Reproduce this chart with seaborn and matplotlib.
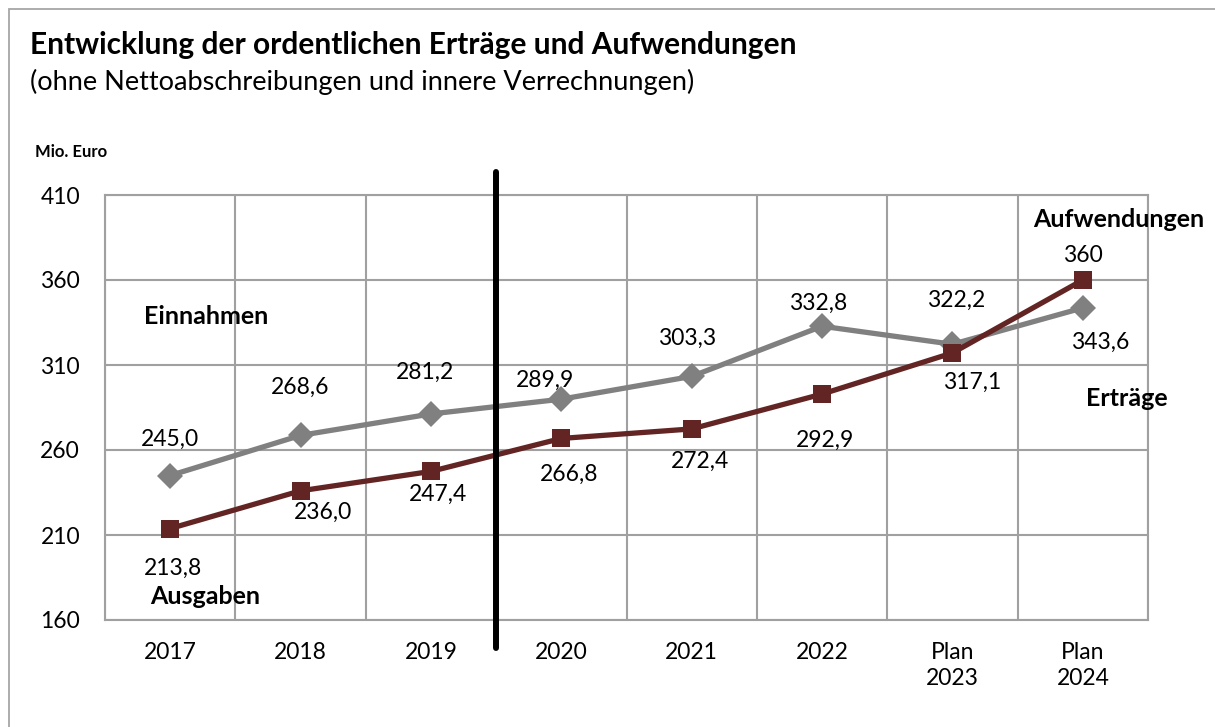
import numpy as np
import pandas as pd
import matplotlib
matplotlib.use("Agg")
import matplotlib.pyplot as plt
import seaborn as sns
from matplotlib.patches import Rectangle

# data
years = ["2017", "2018", "2019", "2020", "2021", "2022", "Plan\n2023", "Plan\n2024"]
ertraege = [245.0, 268.6, 281.2, 289.9, 303.3, 332.8, 322.2, 343.6]
aufwendungen = [213.8, 236.0, 247.4, 266.8, 272.4, 292.9, 317.1, 360.0]
ertraege_txt = ["245,0", "268,6", "281,2", "289,9", "303,3", "332,8", "322,2", "343,6"]
aufwendungen_txt = ["213,8", "236,0", "247,4", "266,8", "272,4", "292,9", "317,1", "360"]
yticks = [160, 210, 260, 310, 360, 410]

# label offsets (pixels, x right / y down)
ertraege_off = [(0, -36), (0, -48), (-6, -42), (-16, -19), (-5, -38), (-4, -23), (4, -44), (17, 34)]
aufwendungen_off = [(3, 40), (22, 22), (7, 23), (8, 36), (8, 32), (3, 46), (20, 29), (0, -25)]

GRAY = "#808080"
RED = "#632523"
GRID = "#a0a0a0"
W, H = 1215, 727

sns.set_style("white")
plt.rcParams["font.family"] = ["Lato", "DejaVu Sans"]
plt.rcParams["text.color"] = "black"

df = pd.DataFrame({
    "Jahr": years * 2,
    "Wert": ertraege + aufwendungen,
    "Reihe": ["Erträge"] * len(years) + ["Aufwendungen"] * len(years),
})

fig = plt.figure(figsize=(W / 100, H / 100), dpi=100)
ax = fig.add_axes([105 / W, 1 - 620 / H, (1148 - 105) / W, (620 - 195) / H])

sns.lineplot(data=df, x="Jahr", y="Wert", hue="Reihe", style="Reihe",
             hue_order=["Erträge", "Aufwendungen"],
             palette={"Erträge": GRAY, "Aufwendungen": RED},
             markers={"Erträge": "D", "Aufwendungen": "s"},
             dashes=False, sort=False, legend=False, ax=ax,
             linewidth=3.8, markersize=13.5, markeredgewidth=0)

ax.set_xlim(-0.5, len(years) - 0.5)
ax.set_ylim(160, 410)
ax.set_yticks(yticks)
ax.set_xticks(range(len(years)))
ax.set_xticklabels(years)
ax.set_xticks(np.arange(-0.5, len(years), 1), minor=True)
ax.set_xlabel("")
ax.set_ylabel("")
ax.grid(False)
ax.grid(axis="y", which="major", color=GRID, lw=1.5)
ax.grid(axis="x", which="minor", color=GRID, lw=1.5)
ax.set_axisbelow(True)
for s in ax.spines.values():
    s.set_color(GRID)
    s.set_linewidth(1.5)
ax.tick_params(axis="both", which="both", length=0, labelsize=16.5, colors="black")
ax.tick_params(axis="y", pad=18)
ax.tick_params(axis="x", pad=16)
for lbl in ax.get_xticklabels():
    lbl.set_linespacing(1.3)

# separator between actual years and 2020 onward
ax.axvline(2.5, ymin=-0.066, ymax=1.054, color="black", lw=4.3, clip_on=False, zorder=5)

for i, (v, t, (dx, dy)) in enumerate(zip(ertraege, ertraege_txt, ertraege_off)):
    ax.annotate(t, (i, v), xytext=(dx * 0.72, -dy * 0.72), textcoords="offset points",
                ha="center", va="center", fontsize=16.5, color="black")
for i, (v, t, (dx, dy)) in enumerate(zip(aufwendungen, aufwendungen_txt, aufwendungen_off)):
    ax.annotate(t, (i, v), xytext=(dx * 0.72, -dy * 0.72), textcoords="offset points",
                ha="center", va="center", fontsize=16.5, color="black")


def ftext(x, y, s, **kw):
    fig.text(x / W, 1 - y / H, s, color="black", **kw)


ftext(30, 54, "Entwicklung der ordentlichen Erträge und Aufwendungen",
      fontsize=21.5, fontweight="bold", va="baseline")
ftext(30, 90, "(ohne Nettoabschreibungen und innere Verrechnungen)",
      fontsize=19.5, va="baseline")
ftext(35, 157, "Mio. Euro", fontsize=12, fontweight="bold", va="baseline")

ftext(206, 317, "Einnahmen", fontsize=18, fontweight="bold", ha="center", va="center")
ftext(205, 597, "Ausgaben", fontsize=18, fontweight="bold", ha="center", va="center")
ftext(1119, 219, "Aufwendungen", fontsize=18, fontweight="bold", ha="center", va="center")
ftext(1127, 398, "Erträge", fontsize=18, fontweight="bold", ha="center", va="center")

fig.patches.append(Rectangle((9 / W, -0.05), 1.2, 1 - 9 / H + 0.05, transform=fig.transFigure,
                             fill=False, ec="#a6a6a6", lw=1.3))

fig.savefig("out.png", dpi=100)
